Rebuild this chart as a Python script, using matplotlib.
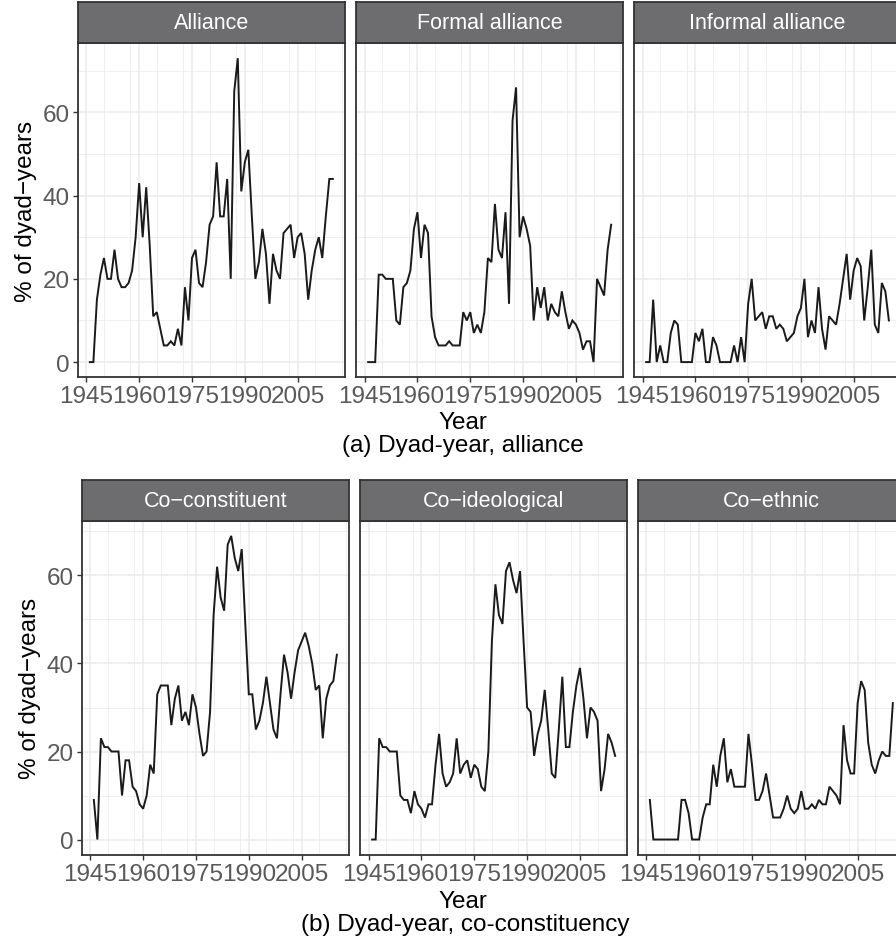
import matplotlib
matplotlib.use("Agg")
import matplotlib.pyplot as plt
from matplotlib.ticker import MultipleLocator

plt.rcParams['font.family'] = ['Liberation Sans', 'DejaVu Sans']

years = list(range(1946, 2016))

alliance = [0, 0, 15, 21,
            25, 20, 20, 27, 20, 18, 18, 19, 22, 30,
            43, 30, 42, 28, 11, 12, 8, 4, 4, 5,
            4, 8, 4, 18, 10, 25, 27, 19, 18, 24,
            33, 35, 48, 35, 35, 44, 20, 65, 73, 41,
            48, 51, 35, 20, 24, 32, 26, 14, 26, 22,
            20, 31, 32, 33, 25, 30, 31, 26, 15, 22,
            27, 30, 25, 35, 44, 44]
formal = [0, 0, 0, 21,
          21, 20, 20, 20, 10, 9, 18, 19, 22, 32,
          36, 25, 33, 31, 11, 6, 4, 4, 4, 5,
          4, 4, 4, 12, 10, 12, 7, 9, 7, 12,
          25, 24, 38, 27, 25, 36, 14, 58, 66, 30,
          35, 32, 28, 10, 18, 13, 18, 10, 14, 12,
          11, 17, 12, 8, 10, 9, 7, 3, 5, 5,
          0, 20, 18, 16, 27, 33]
informal = [0, 0, 15, 0,
            4, 0, 0, 7, 10, 9, 0, 0, 0, 0,
            7, 5, 8, 0, 0, 6, 4, 0, 0, 0,
            0, 4, 0, 6, 0, 14, 20, 10, 11, 12,
            8, 11, 11, 8, 9, 8, 5, 6, 7, 11,
            13, 20, 6, 10, 7, 18, 8, 3, 11, 10,
            9, 14, 20, 26, 15, 22, 25, 23, 10, 18,
            27, 9, 7, 19, 17, 10]
co_constituent = [9, 0, 23, 21,
                  21, 20, 20, 20, 10, 18, 18, 12, 11, 8,
                  7, 10, 17, 15, 33, 35, 35, 35, 26, 32,
                  35, 27, 29, 26, 33, 30, 24, 19, 20, 29,
                  51, 62, 55, 52, 67, 69, 64, 61, 66, 49,
                  33, 33, 25, 27, 31, 37, 31, 25, 23, 33,
                  42, 38, 32, 38, 43, 45, 47, 44, 40, 34,
                  35, 23, 32, 35, 36, 42]
co_ideological = [0, 0, 23, 21,
                  21, 20, 20, 20, 10, 9, 9, 6, 11, 8,
                  7, 5, 8, 8, 17, 24, 15, 12, 13, 15,
                  23, 15, 17, 18, 14, 17, 16, 12, 11, 20,
                  45, 58, 51, 49, 61, 63, 59, 56, 61, 45,
                  30, 29, 19, 24, 27, 34, 25, 15, 14, 25,
                  37, 21, 21, 29, 35, 39, 32, 23, 30, 29,
                  27, 11, 16, 24, 22, 19]
co_ethnic = [9, 0, 0, 0,
             0, 0, 0, 0, 0, 9, 9, 6, 0, 0,
             0, 5, 8, 8, 17, 12, 19, 23, 13, 16,
             12, 12, 12, 12, 24, 17, 9, 9, 11, 15,
             10, 5, 5, 5, 7, 10, 7, 6, 7, 11,
             7, 7, 8, 7, 9, 8, 8, 12, 11, 10,
             8, 26, 18, 15, 15, 31, 36, 34, 22, 17,
             15, 18, 20, 19, 19, 31]

top_titles = ["Alliance", "Formal alliance", "Informal alliance"]
bottom_titles = ["Co\u2212constituent", "Co\u2212ideological", "Co\u2212ethnic"]
x_ticks = [1945, 1960, 1975, 1990, 2005]
y_ticks = [0, 20, 40, 60]
caption_a = "(a) Dyad-year, alliance"
caption_b = "(b) Dyad-year, co-constituency"
x_title = "Year"
y_title = "% of dyad\u2212years"

W, H = 896, 945
fig = plt.figure(figsize=(W / 100, H / 100), dpi=100)

STRIP = '#6D6D6F'
GRID = '#EBEBEB'
BORDER = '#333333'
TICKC = '#595959'
TICK_FS = 17.5
STRIP_FS = 15.5
TITLE_FS = 17.5


def px_axes(x0, y0, x1, y1):
    return fig.add_axes([x0 / W, 1 - y1 / H, (x1 - x0) / W, (y1 - y0) / H])


def panel(x0, y0, x1, y1, data, title, ymax, show_y):
    ax = px_axes(x0, y0, x1, y1)
    ax.plot(years, data, color='#1A1A1A', lw=1.4, solid_joinstyle='miter')
    r = years[-1] - years[0]
    ax.set_xlim(years[0] - 0.05 * r, years[-1] + 0.05 * r)
    ax.set_ylim(-0.05 * ymax, ymax * 1.05)
    ax.set_xticks(x_ticks)
    ax.set_yticks(y_ticks)
    ax.xaxis.set_minor_locator(MultipleLocator(7.5))
    ax.yaxis.set_minor_locator(MultipleLocator(10))
    ax.grid(which='major', color=GRID, lw=1.1)
    ax.grid(which='minor', color=GRID, lw=0.55)
    ax.set_axisbelow(True)
    for s in ax.spines.values():
        s.set_color(BORDER)
        s.set_linewidth(1.3)
    ax.tick_params(which='major', length=3.5, width=1.0, color=BORDER,
                   labelsize=TICK_FS, labelcolor=TICKC, pad=2.2)
    ax.tick_params(which='minor', length=0)
    if not show_y:
        ax.tick_params(axis='y', which='major', labelleft=False, length=0)
    # strip
    sx = px_axes(x0, y0 - 41, x1, y0)
    sx.set_facecolor(STRIP)
    sx.set_xticks([])
    sx.set_yticks([])
    for s in sx.spines.values():
        s.set_color(BORDER)
        s.set_linewidth(1.3)
    sx.text(0.5, 0.5, title, color='white', fontsize=STRIP_FS,
            ha='center', va='center', transform=sx.transAxes)
    return ax


top_x = [(77.7, 345), (356, 623.3), (634, 901)]
bot_x = [(81.7, 349), (360, 627.3), (637.7, 905)]
top_data = [alliance, formal, informal]
bot_data = [co_constituent, co_ideological, co_ethnic]
top_max = max(max(d) for d in top_data)
bot_max = max(max(d) for d in bot_data)

for i, ((a, b), d, t) in enumerate(zip(top_x, top_data, top_titles)):
    panel(a, 44, b, 378.3, d, t, top_max, i == 0)
for i, ((a, b), d, t) in enumerate(zip(bot_x, bot_data, bottom_titles)):
    panel(a, 521.7, b, 855.7, d, t, bot_max, i == 0)

fig.text(463 / W, 1 - 423 / H, x_title, ha='center', va='center', fontsize=TITLE_FS)
fig.text(463 / W, 1 - 446 / H, caption_a, ha='center', va='center', fontsize=TITLE_FS)
fig.text(463 / W, 1 - 902 / H, x_title, ha='center', va='center', fontsize=TITLE_FS)
fig.text(465 / W, 1 - 925 / H, caption_b, ha='center', va='center', fontsize=TITLE_FS)
fig.text(26 / W, 1 - 211 / H, y_title, ha='center', va='center', rotation=90, fontsize=TITLE_FS)
fig.text(30 / W, 1 - 688 / H, y_title, ha='center', va='center', rotation=90, fontsize=TITLE_FS)

fig.savefig("out.png", dpi=100)
